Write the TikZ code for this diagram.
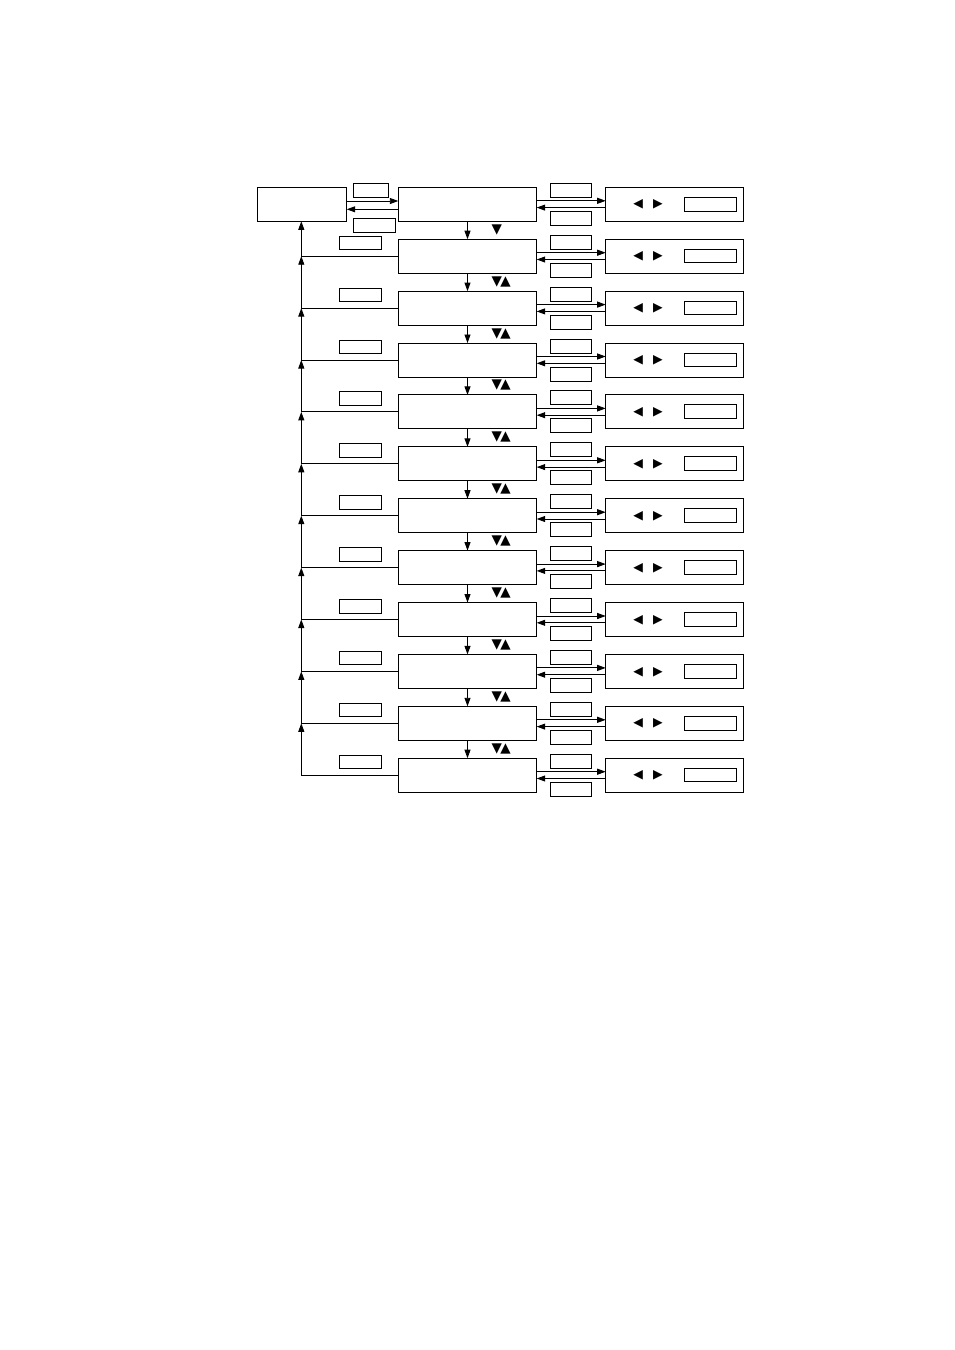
\documentclass[tikz,border=0pt]{standalone}
\usepackage{fontspec}
\newfontfamily\symfont{DejaVu Sans}
\usetikzlibrary{arrows.meta}
\begin{document}
\begin{tikzpicture}[x=1pt,y=-1pt,
  every node/.style={inner sep=0pt,outer sep=0pt},
  rect/.style={draw,line width=0.9pt,anchor=north west},
  mainbox/.style={rect,minimum width=138.4pt,minimum height=34pt},
  sidebox/.style={rect,minimum width=137.6pt,minimum height=34pt},
  valbox/.style={rect,minimum width=52.4pt,minimum height=13.7pt},
  lbl/.style={rect,minimum width=41pt,minimum height=14pt},
  llbl/.style={rect,minimum width=42.4pt,minimum height=13.5pt},
  sym/.style={font=\symfont\fontsize{13.5}{13.5}\selectfont},
  lrsym/.style={font=\symfont\fontsize{12.5}{12.5}\selectfont},
  arr/.style={line width=0.9pt,-{Triangle[length=8.5pt,width=6pt]}},
  ln/.style={line width=0.9pt}
]
\useasboundingbox (0,0) rectangle (954,1350);
% left box
\node[rect,minimum width=89.4pt,minimum height=34pt] (L) at (257.3,187.3) {};
\node[rect,minimum width=35pt,minimum height=14pt] (LA) at (353.3,183.3) {};
\node[rect,minimum width=42.4pt,minimum height=14pt] (LB) at (353.3,218.3) {};
\foreach \k in {1,...,12}{
  \pgfmathsetmacro\t{187.3+51.9*(\k-1)}
  \node[mainbox] (M\k) at (398.3,\t) {};
  \node[sidebox] (R\k) at (605.7,\t) {};
  \node[valbox] (V\k) at (684.3,\t+10) {};
  \node[lrsym] (S\k) at (648,\t+17.4) {◀\hspace{10pt}▶};
  \node[lbl] (RA\k) at (550.7,\t-4) {};
  \node[lbl] (RB\k) at (550.7,\t+24) {};
  \draw[arr] ([yshift=3.5pt]M\k.east) -- ([yshift=3.5pt]R\k.west);
  \draw[arr] ([yshift=-3.3pt]R\k.west) -- ([yshift=-3.3pt]M\k.east);
  \coordinate (J\k) at (301.3,\t+17);
}
\foreach \k in {2,...,12}{
  \pgfmathsetmacro\t{187.3+51.9*(\k-1)}
  \node[llbl] (LL\k) at (339.3,\t-3) {};
  \draw[ln] (M\k.west) -- (J\k);
}
\foreach \k [evaluate=\k as \j using int(\k-1)] in {2,...,12}{
  \draw[arr] (M\j.south) -- (M\k.north);
}
\foreach \k [evaluate=\k as \j using int(\k-1)] in {3,...,12}{
  \draw[arr] (J\k) -- (J\j);
}
\draw[arr] (J2) -- (J2 |- L.south);
\draw[arr] ([yshift=3.3pt]L.east) -- ([yshift=3.3pt]L.east -| M1.west);
\draw[arr] ([yshift=-5pt]L.east -| M1.west) -- ([yshift=-5pt]L.east);
% triangle symbols
\node[sym] (T1) at (496.8,229.5) {▼};
\foreach \k in {2,...,11}{
  \pgfmathsetmacro\t{187.3+51.9*(\k-1)}
  \node[sym] (T\k) at (501.2,\t+42.4) {▼\hspace{-1.5pt}▲};
}
\end{tikzpicture}
\end{document}
